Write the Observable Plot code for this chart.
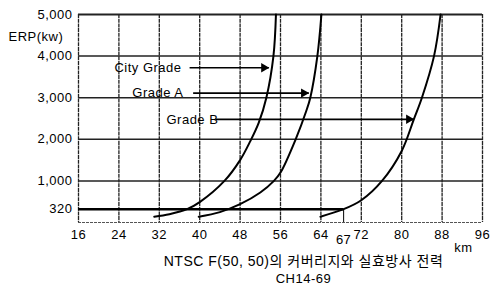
<!DOCTYPE html>
<html><head><meta charset="utf-8">
<script src="https://cdn.jsdelivr.net/npm/d3@7"></script>
<script src="https://cdn.jsdelivr.net/npm/@observablehq/plot@0.6"></script>
<style>body{margin:0;background:#fff}</style>
</head><body><div id="chart"></div>
<script>
const xTicks = [16, 24, 32, 40, 48, 56, 64, 72, 80, 88, 96];
const yTicks = [320, 1000, 2000, 3000, 4000, 5000];
const gridY = [1000, 2000, 3000, 4000];

const cityKm  = [31.0, 34.0, 37.5, 40.0, 44.9, 48.0, 50.0, 51.7, 53.2, 54.6, 55.1];
const cityErp = [140, 200, 320, 490, 1000, 1500, 1950, 2400, 3000, 4000, 5000];
const gradeAKm  = [39.8, 44.0, 48.0, 52.0, 54.7, 56.0, 59.0, 61.1, 61.9, 63.3, 64.1];
const gradeAErp = [140, 250, 440, 720, 1000, 1200, 2000, 2680, 3000, 4000, 5000];
const gradeBKm  = [63.9, 68.5, 72.0, 76.1, 80.0, 82.4, 84.0, 86.4, 87.7];
const gradeBErp = [140, 320, 535, 1000, 1720, 2480, 3000, 4000, 5000];

const arrowLabels = ["City Grade", "Grade A", "Grade B"];
const arrowErp = [3720, 3110, 2480];
const arrowFromKm = [38.0, 38.7, 43.1];
const arrowToKm = [53.7, 61.6, 82.4];
const labelEndKm = [36.4, 36.8, 43.7];

const markerKm = 68.5;
const markerErp = 320;
const markerLabel = "67";

const yLabel = "ERP(kw)";
const xLabel = "km";
const title = "NTSC F(50, 50)의 커버리지와 실효방사 전력";
const subtitle = "CH14-69";

const series = (km, erp) => km.map((k, i) => ({km: k, erp: erp[i]}));
const arrows = arrowLabels.map((l, i) => ({label: l, y: arrowErp[i], x1: arrowFromKm[i], x2: arrowToKm[i], lx: labelEndKm[i]}));

const chart = Plot.plot({
  width: 490, height: 288,
  marginLeft: 78, marginRight: 8, marginTop: 14, marginBottom: 66,
  style: "font-family:'Liberation Sans', Arial, 'Noto Sans CJK KR', sans-serif; font-size:13px; letter-spacing:0.5px; color:#000; background:#fff;",
  x: {domain: [16, 96], ticks: xTicks, tickSize: 0, tickPadding: 7, label: null},
  y: {domain: [0, 5000], ticks: yTicks, tickSize: 0, tickPadding: 6, tickFormat: d3.format(","), label: null},
  marks: [
    Plot.ruleX(xTicks, {stroke: "#222", strokeWidth: 1.3, strokeDasharray: "4,0.7"}),
    Plot.ruleY(gridY, {stroke: "#222", strokeWidth: 1.5}),
    Plot.ruleY([5000], {stroke: "#222", strokeWidth: 2}),
    Plot.ruleY([0], {stroke: "#555", strokeWidth: 1, strokeDasharray: "3,1"}),
    Plot.ruleY([{y: markerErp, x1: 16, x2: markerKm}], {y: "y", x1: "x1", x2: "x2", stroke: "#000", strokeWidth: 2.5}),
    Plot.ruleX([{x: markerKm, y1: 0, y2: markerErp}], {x: "x", y1: "y1", y2: "y2", stroke: "#000", strokeWidth: 1}),
    Plot.text([markerLabel], {x: markerKm, y: 0, text: d => d, dy: 17, lineAnchor: "middle"}),
    Plot.line(series(cityKm, cityErp), {x: "km", y: "erp", curve: "catmull-rom", stroke: "#000", strokeWidth: 2}),
    Plot.line(series(gradeAKm, gradeAErp), {x: "km", y: "erp", curve: "catmull-rom", stroke: "#000", strokeWidth: 2}),
    Plot.line(series(gradeBKm, gradeBErp), {x: "km", y: "erp", curve: "catmull-rom", stroke: "#000", strokeWidth: 2}),
    Plot.link(arrows, {x1: "x1", x2: "x2", y1: "y", y2: "y", stroke: "#000", strokeWidth: 1.6}),
    Plot.dot(arrows, {x: "x2", y: "y", symbol: "triangle", r: 3.5, rotate: 90, fill: "#000", stroke: "none", dx: -5}),
    Plot.text(arrows, {x: "lx", y: "y", text: "label", textAnchor: "end", lineAnchor: "middle", fill: "#000"}),
    Plot.text([yLabel], {text: d => d, frameAnchor: "top-left", dx: -70, dy: 22, textAnchor: "start", lineAnchor: "middle"}),
    Plot.text([xLabel], {text: d => d, frameAnchor: "bottom-right", dx: -19, dy: 25, textAnchor: "middle", lineAnchor: "middle"}),
    Plot.text([title], {text: d => d, frameAnchor: "bottom", dx: 23, dy: 39, lineAnchor: "middle", fontSize: 14}),
    Plot.text([subtitle], {text: d => d, frameAnchor: "bottom", dx: 23, dy: 56, lineAnchor: "middle"})
  ]
});
document.getElementById("chart").appendChild(chart);
</script>
</body></html>
